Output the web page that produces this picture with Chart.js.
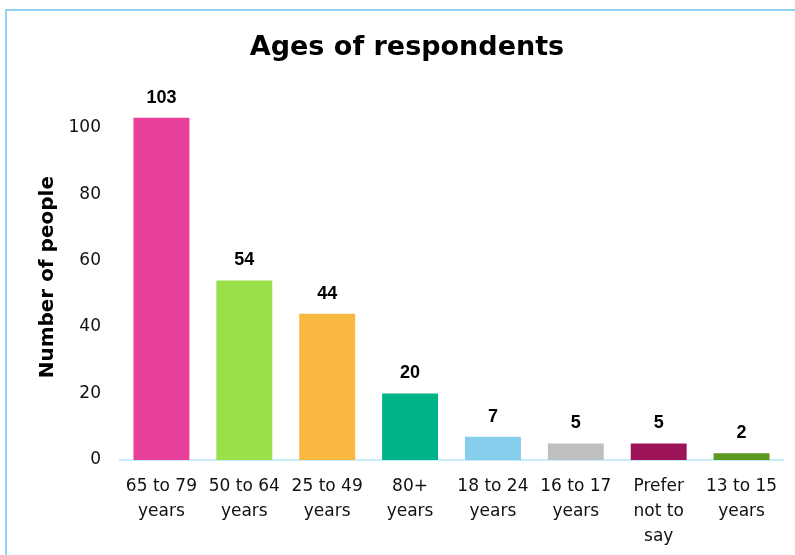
<!DOCTYPE html>
<html>
<head>
<meta charset="utf-8">
<script src="https://cdn.jsdelivr.net/npm/chart.js@4.4.0/dist/chart.umd.min.js"></script>
<style>
  html, body { margin: 0; padding: 0; background: #ffffff; }
  #wrap { position: relative; width: 795px; height: 555px; }
  #frame { position: absolute; left: 5px; top: 9px; width: 800px; height: 560px;
           border-left: 2px solid #8ed3ef; border-top: 2px solid #8ed3ef; pointer-events: none; }
  canvas { position: absolute; left: 0; top: 0; }
</style>
</head>
<body>
<div id="wrap">
  <canvas id="c" width="795" height="555"></canvas>
  <div id="frame"></div>
</div>
<script>
const categories = [
  ["65 to 79", "years"],
  ["50 to 64", "years"],
  ["25 to 49", "years"],
  ["80+", "years"],
  ["18 to 24", "years"],
  ["16 to 17", "years"],
  ["Prefer", "not to", "say"],
  ["13 to 15", "years"]
];
const values = [103, 54, 44, 20, 7, 5, 5, 2];
const barColors = ["#e8409a", "#99e04a", "#f9b941", "#00b48a", "#84cdec", "#bfbfbf", "#9e1458", "#5b9a1f"];
const yTicks = [0, 20, 40, 60, 80, 100];

const valueLabels = {
  id: 'valueLabels',
  afterDatasetsDraw(chart) {
    const ctx = chart.ctx;
    const meta = chart.getDatasetMeta(0);
    ctx.save();
    ctx.font = 'bold 18px "Liberation Sans", Arial, sans-serif';
    ctx.fillStyle = '#000000';
    ctx.textAlign = 'center';
    ctx.textBaseline = 'middle';
    meta.data.forEach((bar, i) => {
      ctx.fillText(String(values[i]), bar.x, bar.y - 20);
    });
    ctx.restore();
  }
};

new Chart(document.getElementById('c'), {
  type: 'bar',
  data: {
    labels: categories,
    datasets: [{
      data: values,
      backgroundColor: barColors,
      borderWidth: 0,
      barPercentage: 0.675,
      categoryPercentage: 1.0
    }]
  },
  options: {
    responsive: false,
    animation: false,
    devicePixelRatio: 1,
    layout: { padding: { left: 31, right: 12, top: 0, bottom: 0 } },
    plugins: {
      legend: { display: false },
      tooltip: { enabled: false },
      title: {
        display: true,
        text: 'Ages of respondents',
        color: '#000000',
        font: { family: '"DejaVu Sans", sans-serif', size: 27, weight: 'bold', lineHeight: 1.2 },
        padding: { top: 32, bottom: 30 }
      }
    },
    scales: {
      x: {
        grid: { display: false, drawTicks: false },
        border: { display: true, color: '#c6eefb', width: 2 },
        ticks: {
          color: '#111111',
          font: { family: '"DejaVu Sans", sans-serif', size: 17, lineHeight: 1.48 },
          padding: 14,
          maxRotation: 0,
          autoSkip: false
        },
        afterFit(scale) { scale.height = 95; }
      },
      y: {
        min: 0,
        max: 110,
        grid: { display: false, drawTicks: false },
        border: { display: false },
        afterBuildTicks(scale) { scale.ticks = yTicks.map(v => ({ value: v })); },
        ticks: {
          color: '#111111',
          font: { family: '"DejaVu Sans", sans-serif', size: 17 },
          padding: 19
        },
        title: {
          display: true,
          text: 'Number of people',
          color: '#000000',
          font: { family: '"DejaVu Sans", sans-serif', size: 20, weight: 'bold', lineHeight: 1.2 },
          padding: { top: 5, bottom: 0 }
        },
        afterFit(scale) { scale.width = 89; }
      }
    }
  },
  plugins: [valueLabels]
});
</script>
</body>
</html>
